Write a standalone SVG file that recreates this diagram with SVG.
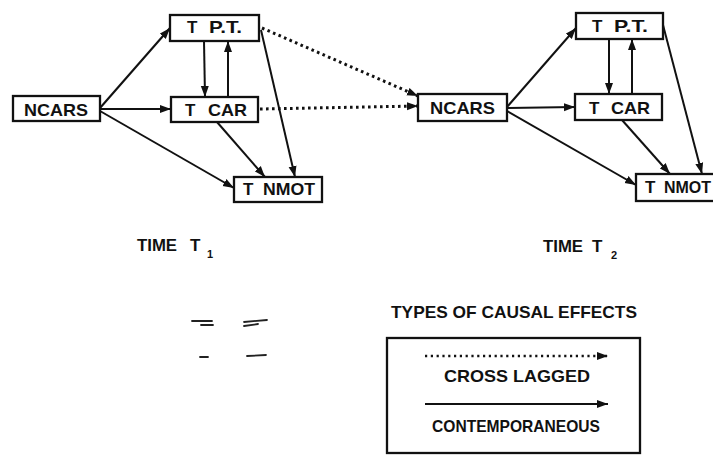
<svg xmlns="http://www.w3.org/2000/svg" width="713" height="455" viewBox="0 0 713 455">
  <style>
    .box { fill: #fff; stroke: #111; stroke-width: 2.3; }
    .lbl { font-family: "Liberation Sans", Arial, sans-serif; font-weight: bold; font-size: 17px; fill: #111; }
    .sub { font-family: "Liberation Sans", Arial, sans-serif; font-weight: bold; font-size: 11px; fill: #111; }
    .solid { stroke: #111; stroke-width: 2; fill: none; marker-end: url(#head); }
    .dotted { stroke: #111; stroke-width: 3; fill: none; stroke-dasharray: 2.6 3.4; marker-end: url(#head); }
    .mark { stroke: #222; stroke-width: 1.8; stroke-linecap: round; }
  </style>
  <defs>
    <marker id="head" markerUnits="userSpaceOnUse" markerWidth="12" markerHeight="9" refX="11" refY="4.5" orient="auto">
      <path d="M0,0.5 L11,4.5 L0,8.5 z" fill="#111"/>
    </marker>
  </defs>
  <rect width="713" height="455" fill="#fff"/>

  <!-- connectors -->
  <g id="connectors">
    <!-- time T1 -->
    <line class="solid" x1="100" y1="108" x2="170" y2="28"/>
    <line class="solid" x1="100" y1="109" x2="171" y2="109"/>
    <line class="solid" x1="100" y1="111" x2="234" y2="188"/>
    <line class="solid" x1="204" y1="41" x2="205" y2="97"/>
    <line class="solid" x1="228" y1="97" x2="228" y2="41"/>
    <line class="solid" x1="217" y1="122" x2="265" y2="177"/>
    <line class="solid" x1="261" y1="30" x2="295" y2="177"/>
    <!-- cross lagged T1 -> T2 -->
    <line class="dotted" x1="262" y1="28" x2="418" y2="96"/>
    <line class="dotted" x1="260" y1="109" x2="418" y2="106"/>
    <!-- time T2 -->
    <line class="solid" x1="507" y1="107" x2="576" y2="28"/>
    <line class="solid" x1="507" y1="108" x2="575" y2="107"/>
    <line class="solid" x1="507" y1="111" x2="636" y2="185"/>
    <line class="solid" x1="609" y1="39" x2="609" y2="94"/>
    <line class="solid" x1="632" y1="94" x2="632" y2="39"/>
    <line class="solid" x1="622" y1="120" x2="670" y2="174"/>
    <line class="solid" x1="663" y1="25" x2="702" y2="174"/>
  </g>

  <!-- nodes, time T1 -->
  <g id="ncars1">
    <rect class="box" x="13" y="96" width="87" height="25"/>
    <text class="lbl" x="24" y="116" textLength="64" lengthAdjust="spacingAndGlyphs">NCARS</text>
  </g>
  <g id="tpt1">
    <rect class="box" x="170" y="15" width="89" height="26"/>
    <text class="lbl" y="33"><tspan x="187">T</tspan><tspan x="209" textLength="33" lengthAdjust="spacingAndGlyphs">P.T.</tspan></text>
  </g>
  <g id="tcar1">
    <rect class="box" x="171" y="97" width="87" height="25"/>
    <text class="lbl" y="116"><tspan x="185">T</tspan><tspan x="208" textLength="39" lengthAdjust="spacingAndGlyphs">CAR</tspan></text>
  </g>
  <g id="tnmot1">
    <rect class="box" x="234" y="177" width="88" height="25"/>
    <text class="lbl" y="195"><tspan x="243">T</tspan><tspan x="263" textLength="52" lengthAdjust="spacingAndGlyphs">NMOT</tspan></text>
  </g>

  <!-- nodes, time T2 -->
  <g id="ncars2">
    <rect class="box" x="418" y="94" width="89" height="27"/>
    <text class="lbl" x="430" y="114" textLength="65" lengthAdjust="spacingAndGlyphs">NCARS</text>
  </g>
  <g id="tpt2">
    <rect class="box" x="576" y="13" width="87" height="26"/>
    <text class="lbl" y="32"><tspan x="592">T</tspan><tspan x="614" textLength="34" lengthAdjust="spacingAndGlyphs">P.T.</tspan></text>
  </g>
  <g id="tcar2">
    <rect class="box" x="575" y="94" width="87" height="26"/>
    <text class="lbl" y="114"><tspan x="589">T</tspan><tspan x="611" textLength="39" lengthAdjust="spacingAndGlyphs">CAR</tspan></text>
  </g>
  <g id="tnmot2">
    <rect class="box" x="636" y="174" width="92" height="27"/>
    <text class="lbl" y="193"><tspan x="645">T</tspan><tspan x="664" textLength="47" lengthAdjust="spacingAndGlyphs">NMOT</tspan></text>
  </g>

  <!-- period captions -->
  <g id="time1">
    <text class="lbl" x="137" y="251" textLength="40" lengthAdjust="spacingAndGlyphs">TIME</text>
    <text class="lbl" x="190" y="251">T</text>
    <text class="sub" x="207" y="258">1</text>
  </g>
  <g id="time2">
    <text class="lbl" x="543" y="252" textLength="40" lengthAdjust="spacingAndGlyphs">TIME</text>
    <text class="lbl" x="592" y="252">T</text>
    <text class="sub" x="611" y="259">2</text>
  </g>

  <!-- stray marks -->
  <g id="marks">
    <line class="mark" x1="192" y1="321" x2="212" y2="321"/>
    <line class="mark" x1="201" y1="325" x2="213" y2="325"/>
    <line class="mark" x1="244" y1="322" x2="267" y2="320"/>
    <line class="mark" x1="244" y1="326" x2="258" y2="324"/>
    <line class="mark" x1="200" y1="357" x2="208" y2="357"/>
    <line class="mark" x1="247" y1="356" x2="266" y2="355"/>
  </g>

  <!-- legend -->
  <g id="legend">
    <text class="lbl" x="391" y="318" textLength="246" lengthAdjust="spacingAndGlyphs">TYPES OF CAUSAL EFFECTS</text>
    <rect class="box" x="387" y="338" width="253" height="115"/>
    <line class="dotted" x1="425" y1="356" x2="608" y2="356" style="stroke-width:2.4;stroke-dasharray:2.2 3.6"/>
    <text class="lbl" x="444" y="382" textLength="146" lengthAdjust="spacingAndGlyphs">CROSS LAGGED</text>
    <line class="solid" x1="425" y1="404" x2="608" y2="404"/>
    <text class="lbl" x="432" y="432" textLength="168" lengthAdjust="spacingAndGlyphs">CONTEMPORANEOUS</text>
  </g>
</svg>
